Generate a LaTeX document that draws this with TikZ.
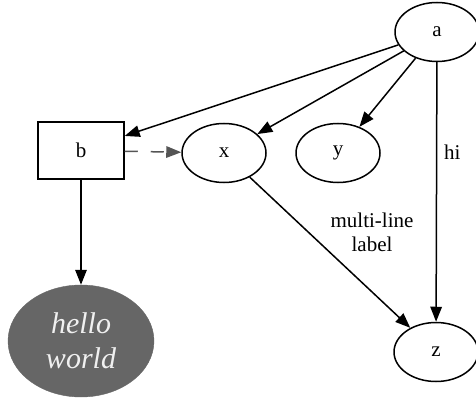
\documentclass[tikz,border=0pt]{standalone}
\usepackage{fontspec}
\setmainfont{Liberation Serif}
\usetikzlibrary{arrows.meta,shapes.geometric}
\definecolor{nodegray}{HTML}{666666}
\definecolor{dashgray}{HTML}{555555}
\tikzset{
  gv/.style={draw, line width=1.5pt, inner sep=0pt, font=\rmfamily\fontsize{21}{24}\selectfont},
  gvell/.style={gv, ellipse, minimum width=84pt, minimum height=59pt},
  gvbox/.style={gv, rectangle, minimum width=86pt, minimum height=57pt},
  gvedge/.style={line width=1.5pt, -{Triangle[length=15pt,width=11.5pt]}},
  gvdash/.style={gvedge, dashgray, dash pattern=on 13pt off 13pt},
  lbl/.style={font=\rmfamily\fontsize{21}{24}\selectfont, inner sep=0pt, align=center}
}
\begin{document}
\begin{tikzpicture}[x=1pt,y=-1pt]
\useasboundingbox (0,0) rectangle (476,406);
\node[gvell] (a) at (437,32) {a};
\node[gvbox] (b) at (81,150.5) {b};
\node[gvell] (x) at (224,153) {x};
\node[gvell] (y) at (338,153) {y};
\node[gvell] (z) at (436,352) {z};
\node[ellipse, fill=nodegray, draw=nodegray, minimum width=146pt, minimum height=112pt, inner sep=0pt,
      text=white!94!black, align=center, font=\rmfamily\fontsize{30}{35}\selectfont\itshape] (h) at (81,341) {hello\\world};
\draw[gvedge] (a) -- (b);
\draw[gvedge] (a) -- (x);
\draw[gvedge] (a) -- (y);
\draw[gvedge] (a) -- (z);
\draw[gvdash] (b) -- (x);
\draw[gvedge] (b) -- (h);
\draw[gvedge] (x) -- (z);
\node[lbl, anchor=west] (hi) at (444,152) {hi};
\node[lbl] (ml) at (372,232) {multi-line\\label};
\end{tikzpicture}
\end{document}
